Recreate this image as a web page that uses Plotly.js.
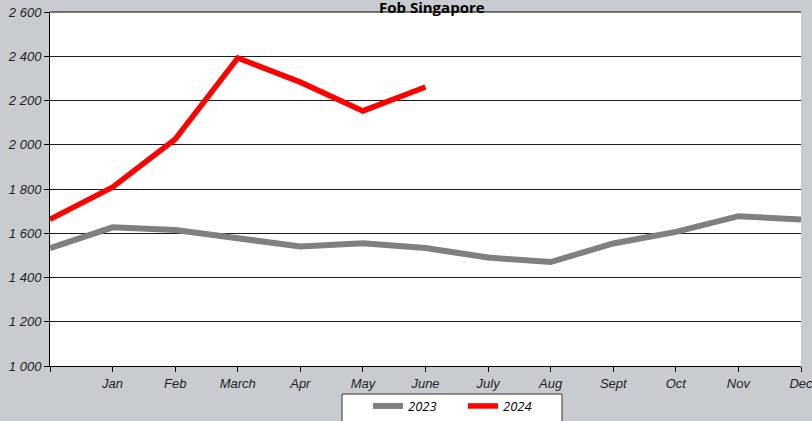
<!DOCTYPE html>
<html>
<head>
<meta charset="utf-8">
<script src="https://cdn.plot.ly/plotly-3.0.1.min.js"></script>
<style>html,body{margin:0;padding:0;background:#c8ccd0;}#chart{width:812px;height:421px;}</style>
</head>
<body>
<div id="chart"></div>
<script>
// x positions: 0 = start (previous December), 1..12 = months
const positions = [0, 1, 2, 3, 4, 5, 6, 7, 8, 9, 10, 11, 12];
const monthLabels = ["", "Jan", "Feb", "March", "Apr", "May", "June", "July", "Aug", "Sept", "Oct", "Nov", "Dec"];
const values2023 = [1533, 1627, 1615, 1580, 1540, 1555, 1533, 1490, 1470, 1554, 1606, 1677, 1662];
const values2024 = [1663, 1808, 2025, 2392, 2283, 2153, 2261];
const yTicks = [1000, 1200, 1400, 1600, 1800, 2000, 2200, 2400, 2600];

const traces = [
  {x: positions, y: values2023, name: "2023", mode: "lines", type: "scatter",
   line: {color: "#808080", width: 6}, cliponaxis: false},
  {x: positions.slice(0, values2024.length), y: values2024, name: "2024", mode: "lines", type: "scatter",
   line: {color: "#ff0000", width: 5.5}, cliponaxis: false}
];

const tickFont = {family: "Liberation Sans, Arial, sans-serif", size: 13, color: "#222", style: "italic"};

const layout = {
  width: 812, height: 421,
  paper_bgcolor: "#c8ccd0",
  plot_bgcolor: "#ffffff",
  margin: {l: 50, r: 11, t: 12, b: 55},
  separators: ", ",
  showlegend: true,
  xaxis: {
    range: [0, 12], tickvals: positions, ticktext: monthLabels,
    showgrid: false, zeroline: false, showline: true, linecolor: "#000", linewidth: 1,
    ticks: "outside", ticklen: 5, tickcolor: "#000", tickfont: tickFont, fixedrange: true,
    automargin: false, ticklabeloverflow: "allow"
  },
  yaxis: {
    range: [1000, 2600], tickvals: yTicks, tickformat: ",d",
    showgrid: true, gridcolor: "#1a1a1a", gridwidth: 1, zeroline: false,
    showline: true, linecolor: "#000", linewidth: 1,
    ticks: "outside", ticklen: 5, tickcolor: "#000", tickfont: tickFont, fixedrange: true,
    automargin: false, ticklabeloverflow: "allow"
  },
  shapes: [
    {type: "line", xref: "paper", yref: "paper", x0: 0, x1: 1, y0: 1, y1: 1, line: {color: "#000", width: 1}},
    {type: "rect", xref: "paper", yref: "paper", x0: (342 - 50) / 751, x1: (562 - 50) / 751,
     y0: -(394 - 366) / 354, y1: -(430 - 366) / 354, fillcolor: "#ffffff",
     line: {color: "#333", width: 1}, layer: "below"}
  ],
  annotations: [
    {text: "<b>Fob Singapore</b>", xref: "paper", yref: "paper", x: 0.508, y: 1, yshift: 5,
     xanchor: "center", yanchor: "middle", showarrow: false,
     font: {family: "Open Sans, sans-serif", size: 15, color: "#000"}}
  ],
  legend: {
    orientation: "h", xref: "container", yref: "container",
    x: 368 / 812, xanchor: "left", y: 1 - 406 / 421, yanchor: "middle",
    bgcolor: "rgba(0,0,0,0)", borderwidth: 0,
    font: {family: "Open Sans, sans-serif", size: 13, color: "#000", style: "italic"},
    entrywidth: 50, entrywidthmode: "pixels", tracegroupgap: 0
  }
};

Plotly.newPlot("chart", traces, layout, {displayModeBar: false, staticPlot: true});
</script>
</body>
</html>
